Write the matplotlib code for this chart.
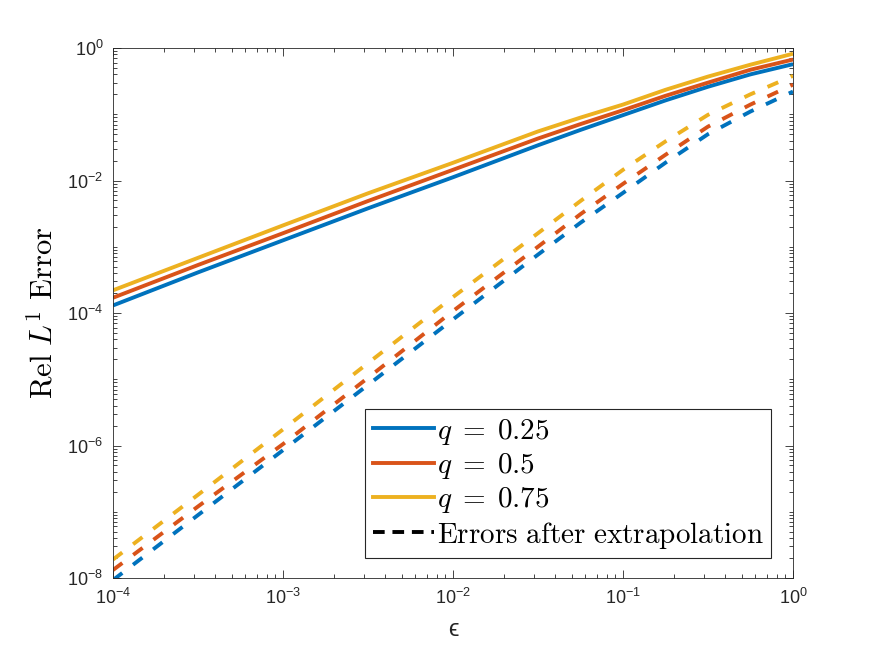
import numpy as np
import matplotlib
matplotlib.use('Agg')
import matplotlib.pyplot as plt
from matplotlib.ticker import LogLocator, NullFormatter
from matplotlib.lines import Line2D

plt.rcParams['font.family'] = ['Liberation Sans', 'DejaVu Sans']
plt.rcParams['mathtext.fontset'] = 'cm'

# epsilon values
eps = [1e-4, 3.16e-4, 1e-3, 3.16e-3, 1e-2, 3.16e-2, 5.62e-2, 1e-1, 1.78e-1, 3.16e-1, 5.62e-1, 1.0]

# relative L1 errors, plain
err_q025 = [1.3e-4, 4.1e-4, 1.25e-3, 3.8e-3, 1.12e-2, 3.4e-2, 5.8e-2, 9.7e-2, 0.162, 0.26, 0.40, 0.57]
err_q05 = [1.7e-4, 5.3e-4, 1.6e-3, 4.9e-3, 1.45e-2, 4.3e-2, 7.1e-2, 0.115, 0.19, 0.30, 0.47, 0.67]
err_q075 = [2.2e-4, 6.8e-4, 2.1e-3, 6.4e-3, 1.85e-2, 5.5e-2, 8.9e-2, 0.14, 0.234, 0.37, 0.56, 0.82]

# errors after extrapolation
ext_q025 = [9.3e-9, 8.9e-8, 8.5e-7, 8.2e-6, 8.0e-5, 7.6e-4, 2.3e-3, 6.5e-3, 1.86e-2, 5.0e-2, 0.11, 0.22]
ext_q05 = [1.32e-8, 1.2e-7, 1.05e-6, 1.05e-5, 1.07e-4, 1.0e-3, 3.1e-3, 8.9e-3, 2.45e-2, 6.5e-2, 0.14, 0.28]
ext_q075 = [1.9e-8, 1.8e-7, 1.75e-6, 1.75e-5, 1.74e-4, 1.6e-3, 4.9e-3, 1.45e-2, 3.9e-2, 9.8e-2, 0.20, 0.38]

labels = [r'$q\;=\;0.25$', r'$q\;=\;0.5$', r'$q\;=\;0.75$']
colors = ['#0072BD', '#D95319', '#EDB120']

fig = plt.figure(figsize=(8.75, 6.57), dpi=100)
ax = fig.add_axes([113/875, 1 - 578/657, 680/875, 530/657])

lw = 2.8
for y, c in zip([err_q025, err_q05, err_q075], colors):
    ax.loglog(eps, y, color=c, lw=lw, solid_capstyle='butt')
for y, c in zip([ext_q025, ext_q05, ext_q075], colors):
    ax.loglog(eps, y, color=c, lw=lw, linestyle=(0, (3, 3.5)), dash_capstyle='butt')

ax.set_xlim(1e-4, 1)
ax.set_ylim(1e-8, 1)
ax.set_xticks([1e-4, 1e-3, 1e-2, 1e-1, 1])
ax.set_yticks([1e-8, 1e-6, 1e-4, 1e-2, 1])
ax.xaxis.set_minor_locator(LogLocator(base=10, subs=np.arange(1, 10), numticks=100))
ax.yaxis.set_minor_locator(LogLocator(base=10, subs=np.arange(1, 10), numticks=100))
ax.xaxis.set_minor_formatter(NullFormatter())
ax.yaxis.set_minor_formatter(NullFormatter())

dark = '#262626'
ax.tick_params(which='both', direction='in', top=True, right=True, colors=dark,
               labelsize=13, labelcolor=dark)
ax.tick_params(which='major', length=6, width=0.6, pad=7)
ax.tick_params(which='minor', length=3, width=0.6)
for s in ax.spines.values():
    s.set_color(dark)
    s.set_linewidth(0.6)

ax.set_xlabel('ϵ', fontsize=17, color=dark, labelpad=8)
ax.set_ylabel(r'$\mathrm{Rel}\ L^1\ \mathrm{Error}$', fontsize=22, color='black', labelpad=6)

handles = [Line2D([], [], color=c, lw=lw) for c in colors]
handles.append(Line2D([], [], color='black', lw=lw, linestyle=(0, (3, 2))))
leg = ax.legend(handles, labels + [r'$\mathrm{Errors\ after\ extrapolation}$'],
                loc='lower right', bbox_to_anchor=(771/875, 1 - 558/657),
                bbox_transform=fig.transFigure, fontsize=21, frameon=True,
                fancybox=False, edgecolor=dark, framealpha=1, handlelength=2.1,
                handletextpad=0.1, labelspacing=0.15, borderpad=0.25, borderaxespad=0)
leg.get_frame().set_linewidth(0.8)

fig.savefig('out.png', dpi=100)
